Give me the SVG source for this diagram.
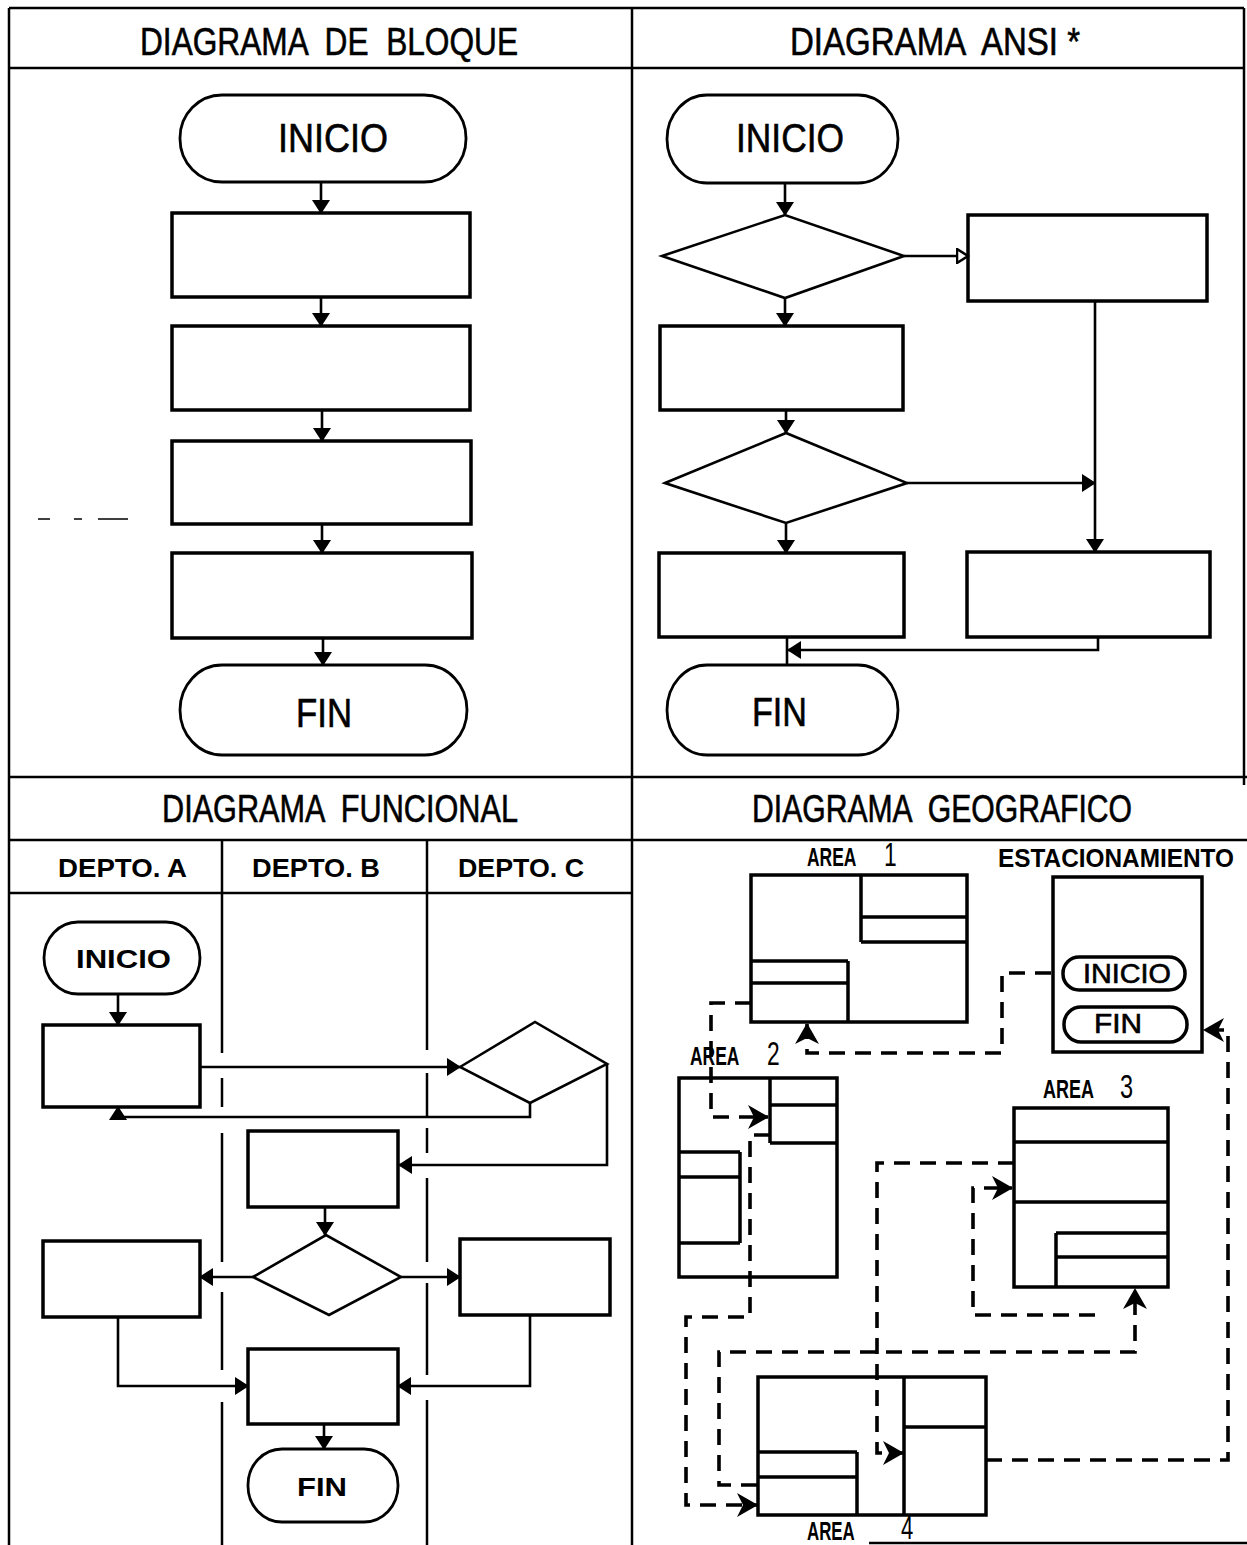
<svg xmlns="http://www.w3.org/2000/svg" width="1247" height="1545" viewBox="0 0 1247 1545">
<style>
.frame{fill:none;stroke:#000;stroke-width:2.5}
.box{fill:none;stroke:#000;stroke-width:3.5}
.term{fill:none;stroke:#000;stroke-width:2.8}
.ln{fill:none;stroke:#000;stroke-width:2.6}
.dash{fill:none;stroke:#000;stroke-width:3.6;stroke-dasharray:16 10}
.title{font-family:"Liberation Sans Narrow","Liberation Sans","DejaVu Sans",sans-serif;font-size:38px;fill:#000;stroke:#000;stroke-width:0.6}
.big{font-family:"Liberation Sans Narrow","Liberation Sans","DejaVu Sans",sans-serif;font-size:40px;fill:#000;stroke:#000;stroke-width:0.6}
.lbl{font-family:"Liberation Sans","DejaVu Sans",sans-serif;font-size:26px;font-weight:bold;fill:#000}
.dig{font-family:"Liberation Sans Narrow","Liberation Sans",sans-serif;font-size:34px;font-weight:normal;fill:#000}
.geo{font-family:"Liberation Sans Narrow","Liberation Sans",sans-serif;font-size:27px;fill:#000;stroke:#000;stroke-width:0.6}
</style>
<defs>
<marker id="ah" markerUnits="userSpaceOnUse" markerWidth="14" markerHeight="18" refX="13" refY="9" orient="auto">
<path d="M0,0 L14,9 L0,18 z" fill="#000"/>
</marker>
<marker id="aho" markerUnits="userSpaceOnUse" markerWidth="14" markerHeight="16" refX="12" refY="8" orient="auto">
<path d="M1,1 L12,8 L1,15 z" fill="#fff" stroke="#000" stroke-width="2.5"/>
</marker>
<marker id="ahg" markerUnits="userSpaceOnUse" markerWidth="22" markerHeight="24" refX="20" refY="12" orient="auto">
<path d="M0,0 L21,12 L0,24 L6,12 z" fill="#000"/>
</marker>
</defs>
<rect width="1247" height="1545" fill="#fff"/>

<g id="frame">
<path class="frame" d="M9,8 H1244 M9,8 V1545 M1244,8 V785 M632,8 V1545 M9,68 H1244 M9,777 H1247 M9,840 H1247 M9,893 H632 M869,1543 H1247"/>
<path d="M38,519 H50 M74,519 H82 M98,519 H128" stroke="#000" stroke-width="1.5"/>
<path class="frame" d="M222,840 V1053 M222,1078 V1107 M222,1133 V1262 M222,1292 V1370 M222,1402 V1545 M427,840 V1050 M427,1073 V1117 M427,1128 V1153 M427,1178 V1262 M427,1283 V1375 M427,1400 V1545"/>
<text class="title" x="140" y="55" textLength="378" lengthAdjust="spacingAndGlyphs" xml:space="preserve">DIAGRAMA  DE  BLOQUE</text>
<text class="title" x="790" y="55" textLength="290" lengthAdjust="spacingAndGlyphs" xml:space="preserve">DIAGRAMA  ANSI *</text>
<text class="title" x="162" y="822" textLength="356" lengthAdjust="spacingAndGlyphs" xml:space="preserve">DIAGRAMA  FUNCIONAL</text>
<text class="title" x="752" y="822" textLength="380" lengthAdjust="spacingAndGlyphs" xml:space="preserve">DIAGRAMA  GEOGRAFICO</text>
<text class="lbl" x="58" y="877" textLength="129" lengthAdjust="spacingAndGlyphs">DEPTO. A</text>
<text class="lbl" x="252" y="877" textLength="128" lengthAdjust="spacingAndGlyphs">DEPTO. B</text>
<text class="lbl" x="458" y="877" textLength="126" lengthAdjust="spacingAndGlyphs">DEPTO. C</text>
</g>

<g id="bloque">
<g id="b-inicio"><rect class="term" x="180" y="95" width="286" height="87" rx="42" ry="43"/><text class="big" x="278" y="152" textLength="110" lengthAdjust="spacingAndGlyphs">INICIO</text></g>
<g id="b-p1"><rect class="box" x="172" y="213" width="298" height="84"/></g>
<g id="b-p2"><rect class="box" x="172" y="326" width="298" height="84"/></g>
<g id="b-p3"><rect class="box" x="172" y="441" width="299" height="83"/></g>
<g id="b-p4"><rect class="box" x="172" y="553" width="300" height="85"/></g>
<g id="b-fin"><rect class="term" x="180" y="665" width="287" height="90" rx="42" ry="45"/><text class="big" x="296" y="727" textLength="56" lengthAdjust="spacingAndGlyphs">FIN</text></g>
</g>

<g id="ansi">
<g id="a-inicio"><rect class="term" x="667" y="95" width="231" height="88" rx="40" ry="44"/><text class="big" x="736" y="152" textLength="108" lengthAdjust="spacingAndGlyphs">INICIO</text></g>
<g id="a-d1"><polygon class="ln" points="662,256 785,215 904,256 785,298"/></g>
<g id="a-r1"><rect class="box" x="968" y="215" width="239" height="86"/></g>
<g id="a-l1"><rect class="box" x="660" y="326" width="243" height="84"/></g>
<g id="a-d2"><polygon class="ln" points="665,483 786,433 907,483 786,523"/></g>
<g id="a-l2"><rect class="box" x="659" y="553" width="245" height="84"/></g>
<g id="a-r2"><rect class="box" x="967" y="552" width="243" height="85"/></g>
<g id="a-fin"><rect class="term" x="667" y="665" width="231" height="90" rx="40" ry="45"/><text class="big" x="752" y="726" textLength="55" lengthAdjust="spacingAndGlyphs">FIN</text></g>
</g>

<g id="funcional">
<g id="f-inicio"><rect class="term" x="44" y="922" width="156" height="72" rx="34" ry="36"/><text class="lbl" x="76" y="968" textLength="95" lengthAdjust="spacingAndGlyphs">INICIO</text></g>
<g id="f-a1"><rect class="box" x="43" y="1025" width="157" height="82"/></g>
<g id="f-c1"><polygon class="ln" points="460,1067 535,1022 607,1064 530,1103"/></g>
<g id="f-b1"><rect class="box" x="248" y="1131" width="150" height="76"/></g>
<g id="f-b2"><polygon class="ln" points="253,1277 326,1235 401,1277 329,1315"/></g>
<g id="f-a2"><rect class="box" x="43" y="1241" width="157" height="76"/></g>
<g id="f-c2"><rect class="box" x="460" y="1239" width="150" height="76"/></g>
<g id="f-b3"><rect class="box" x="248" y="1349" width="150" height="75"/></g>
<g id="f-fin"><rect class="term" x="248" y="1449" width="150" height="73" rx="34" ry="36"/><text class="lbl" x="297" y="1496" textLength="50" lengthAdjust="spacingAndGlyphs">FIN</text></g>
</g>

<g id="geografico">
<g id="g-area1">
<rect class="box" x="751" y="875" width="216" height="147"/>
<path class="box" d="M861,875 V942 M861,917 H967 M861,942 H967 M751,961 H848 M751,983 H848 M848,961 V1022"/>
<text class="lbl" x="807" y="866" textLength="62" lengthAdjust="spacingAndGlyphs">AREA<tspan class="dig" x="884" y="866">1</tspan></text>
</g>
<g id="g-estacionamiento">
<rect class="box" x="1053" y="877" width="149" height="175"/>
<text class="lbl" x="998" y="867" textLength="236" lengthAdjust="spacingAndGlyphs">ESTACIONAMIENTO</text>
<rect class="box" x="1063" y="957" width="122" height="33" rx="16" ry="16"/>
<text class="geo" x="1083" y="983" textLength="88" lengthAdjust="spacingAndGlyphs">INICIO</text>
<rect class="box" x="1064" y="1007" width="123" height="35" rx="17" ry="17"/>
<text class="geo" x="1094" y="1033" textLength="48" lengthAdjust="spacingAndGlyphs">FIN</text>
</g>
<g id="g-area2">
<rect class="box" x="679" y="1078" width="158" height="199"/>
<path class="box" d="M770,1078 V1143 M770,1105 H837 M770,1143 H837 M679,1152 H740 M740,1152 V1243 M679,1177 H740 M679,1243 H740"/>
<text class="lbl" x="690" y="1065" textLength="62" lengthAdjust="spacingAndGlyphs">AREA<tspan class="dig" x="767" y="1065">2</tspan></text>
</g>
<g id="g-area3">
<rect class="box" x="1014" y="1108" width="154" height="179"/>
<path class="box" d="M1014,1142 H1168 M1014,1202 H1168 M1056,1233 V1287 M1056,1233 H1168 M1056,1257 H1168"/>
<text class="lbl" x="1043" y="1098" textLength="64" lengthAdjust="spacingAndGlyphs">AREA<tspan class="dig" x="1120" y="1098">3</tspan></text>
</g>
<g id="g-area4">
<rect class="box" x="758" y="1377" width="228" height="138"/>
<path class="box" d="M904,1377 V1515 M904,1427 H986 M758,1452 H857 M758,1477 H857 M857,1452 V1515"/>
<text class="lbl" x="807" y="1540" textLength="60" lengthAdjust="spacingAndGlyphs">AREA<tspan class="dig" font-size="30" x="901" y="1539">4</tspan></text>
</g>
</g>

<g id="connectors">
<path class="ln" marker-end="url(#ah)" d="M321,182 V213"/>
<path class="ln" marker-end="url(#ah)" d="M321,297 V326"/>
<path class="ln" marker-end="url(#ah)" d="M322,410 V441"/>
<path class="ln" marker-end="url(#ah)" d="M322,524 V553"/>
<path class="ln" marker-end="url(#ah)" d="M323,638 V665"/>

<path class="ln" marker-end="url(#ah)" d="M785,183 V215"/>
<path class="ln" marker-end="url(#aho)" d="M904,256 H968"/>
<path class="ln" marker-end="url(#ah)" d="M785,298 V326"/>
<path class="ln" marker-end="url(#ah)" d="M786,410 V433"/>
<path class="ln" marker-end="url(#ah)" d="M907,483 H1095"/>
<path class="ln" marker-end="url(#ah)" d="M1095,301 V552"/>
<path class="ln" marker-end="url(#ah)" d="M786,523 V553"/>
<path class="ln" marker-end="url(#ah)" d="M1098,637 V650 H788"/>
<path class="ln" d="M787,637 V665"/>

<path class="ln" marker-end="url(#ah)" d="M118,994 V1025"/>
<path class="ln" marker-end="url(#ah)" d="M200,1067 H460"/>
<path class="ln" marker-end="url(#ah)" d="M530,1103 V1117 H118 V1107"/>
<path class="ln" marker-end="url(#ah)" d="M607,1064 V1165 H399"/>
<path class="ln" marker-end="url(#ah)" d="M325,1207 V1235"/>
<path class="ln" marker-end="url(#ah)" d="M253,1277 H200"/>
<path class="ln" marker-end="url(#ah)" d="M401,1277 H460"/>
<path class="ln" marker-end="url(#ah)" d="M118,1317 V1386 H248"/>
<path class="ln" marker-end="url(#ah)" d="M530,1315 V1386 H398"/>
<path class="ln" marker-end="url(#ah)" d="M324,1424 V1449"/>

<path class="dash" marker-end="url(#ahg)" d="M1051,973 H1002 V1053 H807 V1024"/>
<path class="dash" marker-end="url(#ahg)" d="M751,1003 H711 V1117 H768"/>
<path class="dash" marker-end="url(#ahg)" d="M770,1135 H750 V1317 H686 V1505 H757"/>
<path class="dash" marker-end="url(#ahg)" d="M986,1460 H1228 V1030 H1204"/>
<path class="dash" marker-end="url(#ahg)" d="M1014,1163 H877 V1453 H903"/>
<path class="dash" marker-end="url(#ahg)" d="M1095,1315 H973 V1188 H1012"/>
<path class="dash" marker-end="url(#ahg)" d="M757,1485 H719 V1352 H1135 V1289"/>
</g>
</svg>
